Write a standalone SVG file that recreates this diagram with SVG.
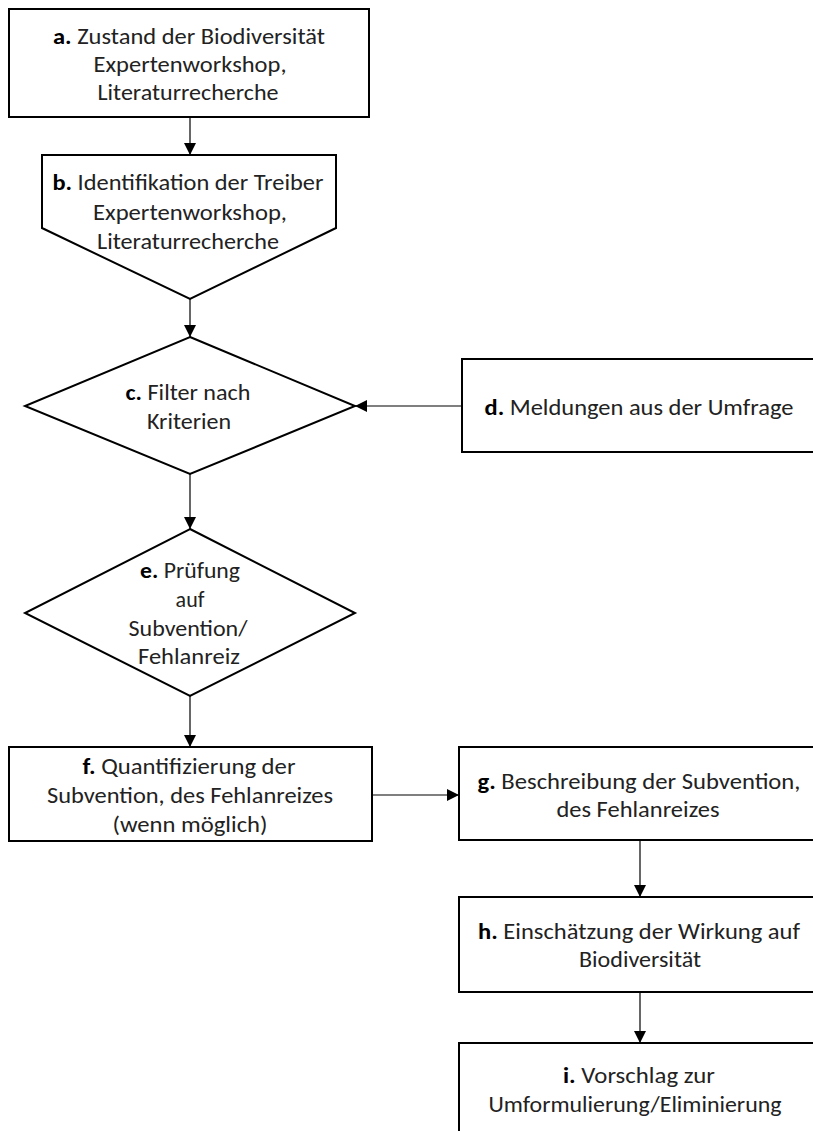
<svg xmlns="http://www.w3.org/2000/svg" width="813" height="1131" viewBox="0 0 813 1131">
<defs>
<style>
.box{fill:#fff;stroke:#000;stroke-width:2}
.con{fill:none;stroke:#000;stroke-width:1.2}
text{font-family:Carlito,Lato,"Liberation Sans",sans-serif;font-size:22px;fill:#222;text-anchor:middle}
.b{font-weight:bold;fill:#000}
</style>
<marker id="ah" viewBox="0 0 12 12" refX="12" refY="6" markerWidth="12" markerHeight="12" markerUnits="userSpaceOnUse" orient="auto">
<path d="M0,0 L12,6 L0,12 Z" fill="#000"/>
</marker>
</defs>
<rect width="813" height="1131" fill="#fff"/>
<g id="connectors">
<line class="con" x1="190" y1="117" x2="190" y2="155" marker-end="url(#ah)"/>
<line class="con" x1="190" y1="299" x2="190" y2="337" marker-end="url(#ah)"/>
<line class="con" x1="462" y1="406" x2="355" y2="406" marker-end="url(#ah)"/>
<line class="con" x1="190" y1="474" x2="190" y2="529" marker-end="url(#ah)"/>
<line class="con" x1="190" y1="696" x2="190" y2="747" marker-end="url(#ah)"/>
<line class="con" x1="372" y1="795" x2="459" y2="795" marker-end="url(#ah)"/>
<line class="con" x1="640" y1="840" x2="640" y2="897" marker-end="url(#ah)"/>
<line class="con" x1="640" y1="992" x2="640" y2="1043" marker-end="url(#ah)"/>
</g>
<g id="node-a">
<rect class="box" x="9" y="9" width="360" height="108"/>
<text x="189" y="44" textLength="272" lengthAdjust="spacingAndGlyphs"><tspan class="b">a.</tspan> Zustand der Biodiversität</text>
<text x="190" y="72" textLength="193" lengthAdjust="spacingAndGlyphs">Expertenworkshop,</text>
<text x="188" y="100" textLength="181" lengthAdjust="spacingAndGlyphs">Literaturrecherche</text>
</g>
<g id="node-b">
<path class="box" d="M42,155 H336 V228 L190,299 L42,228 Z"/>
<text x="188" y="190" textLength="271" lengthAdjust="spacingAndGlyphs"><tspan class="b">b.</tspan> Identifikation der Treiber</text>
<text x="190" y="220" textLength="194" lengthAdjust="spacingAndGlyphs">Expertenworkshop,</text>
<text x="188" y="249" textLength="182" lengthAdjust="spacingAndGlyphs">Literaturrecherche</text>
</g>
<g id="node-c">
<path class="box" d="M190,337 L355,406 L190,474 L25,406 Z"/>
<text x="188" y="400" textLength="125" lengthAdjust="spacingAndGlyphs"><tspan class="b">c.</tspan> Filter nach</text>
<text x="189" y="429" textLength="84" lengthAdjust="spacingAndGlyphs">Kriterien</text>
</g>
<g id="node-d">
<rect class="box" x="462" y="359" width="360" height="93"/>
<text x="639" y="415" textLength="309" lengthAdjust="spacingAndGlyphs"><tspan class="b">d.</tspan> Meldungen aus der Umfrage</text>
</g>
<g id="node-e">
<path class="box" d="M190,529 L355,613 L190,696 L25,613 Z"/>
<text x="190" y="578" textLength="100" lengthAdjust="spacingAndGlyphs"><tspan class="b">e.</tspan> Prüfung</text>
<text x="190" y="607">auf</text>
<text x="188" y="636" textLength="119" lengthAdjust="spacingAndGlyphs">Subvention/</text>
<text x="189" y="664" textLength="102" lengthAdjust="spacingAndGlyphs">Fehlanreiz</text>
</g>
<g id="node-f">
<rect class="box" x="9" y="747" width="363" height="94"/>
<text x="189" y="774" textLength="213" lengthAdjust="spacingAndGlyphs"><tspan class="b">f.</tspan> Quantifizierung der</text>
<text x="190" y="803" textLength="286" lengthAdjust="spacingAndGlyphs">Subvention, des Fehlanreizes</text>
<text x="190" y="832" textLength="155" lengthAdjust="spacingAndGlyphs">(wenn möglich)</text>
</g>
<g id="node-g">
<rect class="box" x="459" y="747" width="360" height="93"/>
<text x="639" y="789" textLength="323" lengthAdjust="spacingAndGlyphs"><tspan class="b">g.</tspan> Beschreibung der Subvention,</text>
<text x="638" y="817" textLength="163" lengthAdjust="spacingAndGlyphs">des Fehlanreizes</text>
</g>
<g id="node-h">
<rect class="box" x="459" y="897" width="360" height="95"/>
<text x="639" y="939" textLength="322" lengthAdjust="spacingAndGlyphs"><tspan class="b">h.</tspan> Einschätzung der Wirkung auf</text>
<text x="640" y="967" textLength="122" lengthAdjust="spacingAndGlyphs">Biodiversität</text>
</g>
<g id="node-i">
<rect class="box" x="459" y="1043" width="360" height="100"/>
<text x="639" y="1083" textLength="152" lengthAdjust="spacingAndGlyphs"><tspan class="b">i.</tspan> Vorschlag zur</text>
<text x="635" y="1112" textLength="293" lengthAdjust="spacingAndGlyphs">Umformulierung/Eliminierung</text>
</g>
</svg>
